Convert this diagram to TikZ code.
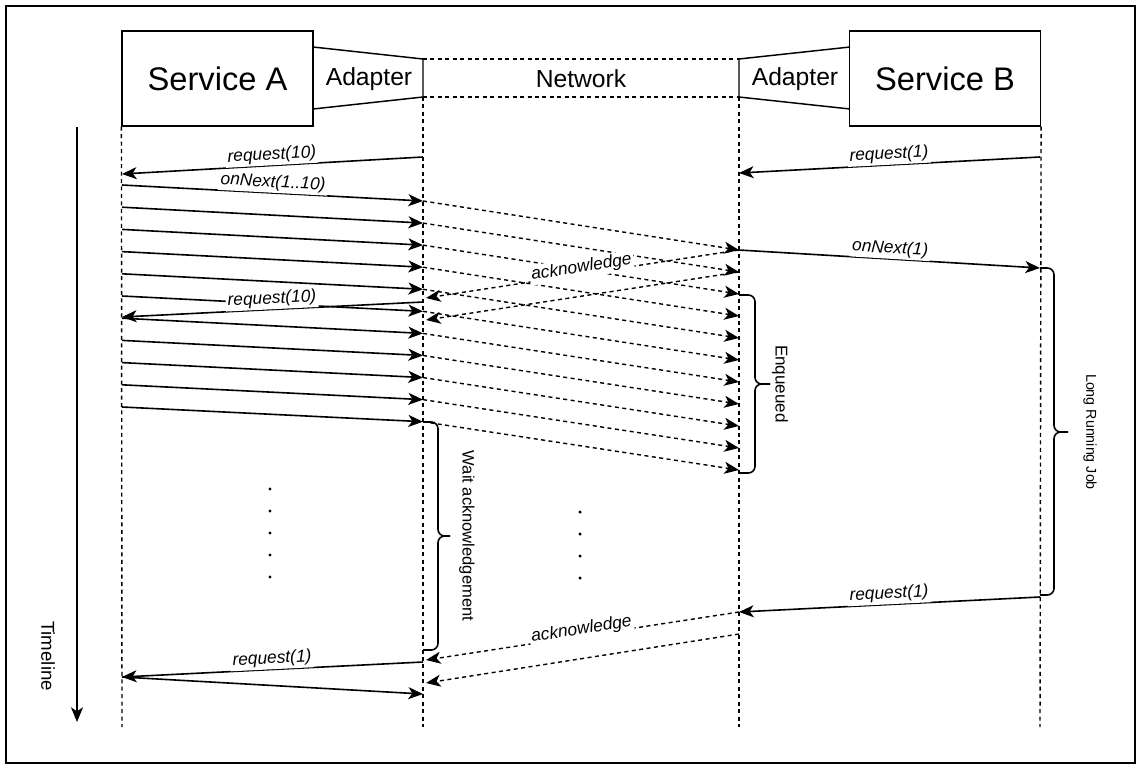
\documentclass[tikz,border=0pt]{standalone}
\usepackage{fontspec}
\setmainfont{Liberation Sans}
\usetikzlibrary{arrows.meta}
\begin{document}
\begin{tikzpicture}[x=0.75pt,y=-0.75pt,
  msg/.style={line width=1.2pt, -{Stealth[length=11pt,width=9pt,inset=3pt]}},
  dmsg/.style={msg, line width=1.05pt, dash pattern=on 3pt off 2.6pt},
  life/.style={line width=1.05pt, dash pattern=on 3pt off 2.6pt},
  outl/.style={line width=1.1pt},
  lbl/.style={font=\itshape\fontsize{13}{15}\selectfont, sloped, above, fill=white, inner sep=1.5pt},
  acklbl/.style={lbl, above=-3pt},
  svc/.style={draw, line width=1.1pt, minimum width=143pt, minimum height=71.25pt, inner sep=0pt, font=\fontsize{24.5}{28}\selectfont},
  mid/.style={font=\fontsize{18.5}{22}\selectfont, inner sep=0pt},
  vlbl/.style={rotate=-90, inner sep=0pt},
  brc/.style={line width=1.2pt, rounded corners=5pt},
  dot/.style={fill=black}
]
\useasboundingbox (0,0) rectangle (1141,768);
\draw[line width=1.9pt] (6,6) rectangle (1135,763);

% ---------- header ----------
\node[svc] (svcA) at (217.5,78.5) {Service A};
\node[svc] (svcB) at (945,78.5) {Service B};
\coordinate (aTL) at (313,47); \coordinate (aTR) at (423,59);
\coordinate (aBR) at (423,97); \coordinate (aBL) at (313,109);
\draw[outl] (aTL) -- (aTR) -- (aBR) -- (aBL);
\node[mid] (adA) at (369,79) {Adapter};
\coordinate (bTR) at (850,47); \coordinate (bTL) at (739,59);
\coordinate (bBL) at (739,97); \coordinate (bBR) at (850,109);
\draw[outl] (bTR) -- (bTL) -- (bBL) -- (bBR);
\node[mid] (adB) at (795,79) {Adapter};
\draw[life] (aTR) -- (bTL);
\draw[life] (aBR) -- (bBL);
\node[mid] (net) at (581,79) {Network};

% ---------- lifelines ----------
\coordinate (lAend) at (122,727);
\coordinate (lBend) at (423,727);
\coordinate (lCend) at (739,727);
\coordinate (lDend) at (1040,727);
\draw[life] (svcA.south west) -- (lAend);
\draw[life] (aBR) -- (lBend);
\draw[life] (bBL) -- (lCend);
\draw[life] (svcB.south east) -- (lDend);

% ---------- timeline ----------
\coordinate (t0) at (77,127);
\coordinate (t1) at (77,722);
\draw[msg] (t0) -- (t1);
\node[vlbl, font=\fontsize{14}{16}\selectfont] (tl) at (48,656) {Timeline};

% ---------- first requests ----------
\coordinate (r10a) at (423,157); \coordinate (r10b) at (122,174);
\draw[msg] (r10a) -- (r10b);
\path (r10b) -- node[lbl] (lr10) {request(10)} (r10a);
\coordinate (r1a) at (1040,157); \coordinate (r1b) at (739,173);
\draw[msg] (r1a) -- (r1b);
\path (r1b) -- node[lbl] (lr1) {request(1)} (r1a);

% ---------- onNext burst ----------
\foreach \i in {0,...,10} {
  \coordinate (s\i) at (122,{185+22.2*\i});
  \coordinate (m\i) at (423,{201+22.07*\i});
  \coordinate (e\i) at (739,{250+22*\i});
}
\foreach \i in {0,...,10} { \draw[dmsg] (m\i) -- (e\i); }
\foreach \i in {0,...,10} { \draw[msg] (s\i) -- (m\i); }
\path (s0) -- node[lbl] (lon) {onNext(1..10)} (m0);

% ---------- acknowledges ----------
\coordinate (k1a) at (739,250); \coordinate (k1b) at (426,298);
\coordinate (k2a) at (739,272); \coordinate (k2b) at (426,320);
\draw[dmsg] (k1a) -- (k1b);
\draw[dmsg] (k2a) -- (k2b);
\path (k1b) -- node[acklbl] (lack) {acknowledge} (k1a);

% ---------- second request(10) ----------
\coordinate (q1) at (423,302); \coordinate (q2) at (122,317);
\draw[msg] (q1) -- (q2);
\path (q2) -- node[lbl] (lq) {request(10)} (q1);

% ---------- onNext(1) ----------
\coordinate (o1) at (1040,268);
\draw[msg] (e0) -- (o1);
\path (e0) -- node[lbl] (lo1) {onNext(1)} (o1);

% ---------- braces ----------
\draw[brc] (739,295) -- (755,295) -- (755,384) -- (770,384);
\draw[brc] (770,384) -- (755,384) -- (755,473) -- (739,473);
\node[vlbl, font=\fontsize{12.8}{15}\selectfont] (enq) at (780,384) {Enqueued};

\draw[brc] (1040,268) -- (1054,268) -- (1054,432) -- (1068,432);
\draw[brc] (1068,432) -- (1054,432) -- (1054,595) -- (1040,595);
\node[vlbl, font=\fontsize{10.7}{13}\selectfont] (lrj) at (1090,432) {Long Running Job};

\draw[brc] (423,422) -- (438,422) -- (438,536) -- (450,536);
\draw[brc] (450,536) -- (438,536) -- (438,650) -- (423,650);
\node[vlbl, font=\fontsize{12.4}{15}\selectfont] (wack) at (467,536) {Wait acknowledgement};

% ---------- dots ----------
\foreach \k in {0,...,4} { \fill[dot] (270,{489+22*\k}) circle (1.3pt); }
\foreach \k in {0,...,3} { \fill[dot] (580,{512+22*\k}) circle (1.3pt); }

% ---------- later messages ----------
\coordinate (w1a) at (1040,597); \coordinate (w1b) at (739,612);
\draw[msg] (w1a) -- (w1b);
\path (w1b) -- node[lbl] (lw1) {request(1)} (w1a);

\coordinate (k3a) at (739,612); \coordinate (k3b) at (426,660);
\coordinate (k4a) at (739,634); \coordinate (k4b) at (426,683);
\draw[dmsg] (k3a) -- (k3b);
\draw[dmsg] (k4a) -- (k4b);
\path (k3b) -- node[acklbl] (lack2) {acknowledge} (k3a);

\coordinate (z1a) at (423,662); \coordinate (z1b) at (122,677);
\draw[msg] (z1a) -- (z1b);
\path (z1b) -- node[lbl] (lz1) {request(1)} (z1a);
\coordinate (z2) at (423,694);
\draw[msg] (z1b) -- (z2);
\end{tikzpicture}
\end{document}
